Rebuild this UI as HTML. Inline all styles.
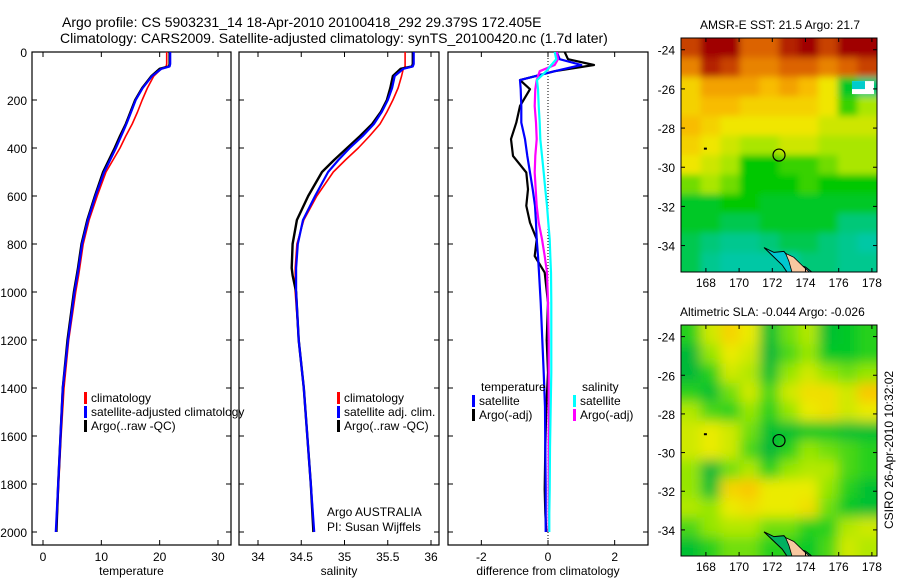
<!DOCTYPE html>
<html><head><meta charset="utf-8"><style>
html,body{margin:0;padding:0;background:#fff;}
svg{display:block;font-family:"Liberation Sans",sans-serif;}
text{fill:#000;}
</style></head><body>
<svg id="fig" width="900" height="580" viewBox="0 0 900 580" xmlns="http://www.w3.org/2000/svg">
<defs>
<filter id="blur" x="0" y="0" width="1" height="1"><feGaussianBlur stdDeviation="6"/></filter>
<filter id="blur1" x="0" y="0" width="1" height="1"><feGaussianBlur stdDeviation="3.5"/></filter>
<clipPath id="clipM1"><rect x="681" y="38" width="196" height="234"/></clipPath>
<clipPath id="clipM2"><rect x="681" y="325" width="196" height="231"/></clipPath>
<clipPath id="clipP1"><rect x="32" y="52" width="199" height="493"/></clipPath>
<clipPath id="clipP2"><rect x="239" y="52" width="200" height="493"/></clipPath>
<clipPath id="clipP3"><rect x="448" y="52" width="200" height="493"/></clipPath>
</defs>
<text x="62" y="27" font-size="14">Argo profile: CS 5903231_14 18-Apr-2010 20100418_292 29.379S 172.405E</text>
<text x="60" y="43" font-size="14">Climatology: CARS2009. Satellite-adjusted climatology: synTS_20100420.nc (1.7d later)</text>
<g id="g1"></g>
<g id="g2"></g>
<g id="g3"></g>
<g id="m1"></g>
<g id="m2"></g>
<text transform="translate(893,450) rotate(-90)" text-anchor="middle" font-size="12">CSIRO 26-Apr-2010 10:32:02</text>
</svg>
<script>
// ---- profile data ----
const depth = [0,50,60,70,100,150,200,250,300,350,400,450,500,600,700,800,900,930,1000,1200,1400,1600,1800,2000];
const tempArgo = [21.7,21.7,21.6,20.0,18.6,17.0,15.8,15.0,14.2,13.2,12.3,11.3,10.3,8.9,7.6,6.6,6.0,5.8,5.3,4.2,3.4,3.0,2.6,2.3];
const tempSat = [21.8,21.8,21.7,20.3,18.7,17.1,15.9,15.1,14.3,13.4,12.5,11.5,10.5,9.0,7.7,6.7,6.1,5.9,5.4,4.3,3.4,3.0,2.6,2.2];
const tempClim = [21.2,21.2,21.1,20.3,19.0,17.9,17.0,16.2,15.3,14.2,13.2,12.0,10.8,9.3,7.9,6.9,6.3,6.1,5.6,4.4,3.6,3.1,2.7,2.3];
const salArgo = [35.79,35.79,35.78,35.65,35.56,35.53,35.49,35.42,35.32,35.18,35.03,34.88,34.74,34.58,34.45,34.40,34.39,34.40,34.44,34.47,34.53,34.57,34.61,34.64];
const salSat = [35.80,35.80,35.79,35.68,35.58,35.55,35.50,35.43,35.34,35.21,35.06,34.93,34.81,34.66,34.52,34.46,34.44,34.44,34.44,34.47,34.53,34.57,34.61,34.65];
const salClim = [35.70,35.70,35.70,35.68,35.66,35.62,35.56,35.49,35.41,35.29,35.16,35.01,34.87,34.68,34.53,34.45,34.43,34.43,34.43,34.47,34.53,34.57,34.61,34.64];
const diffDepth = [0,30,54,80,117,155,225,294,363,433,502,572,641,711,780,850,919,1044,1200,1336,1478,1650,1822,1922,2000];
const dTempArgo = [0.5,0.6,1.38,0.2,-0.84,-0.54,-0.84,-0.95,-1.11,-1.05,-0.65,-0.6,-0.65,-0.54,-0.34,-0.4,-0.1,0,-0.04,0,-0.05,-0.08,-0.1,-0.08,-0.05];
const dTempSat = [0.26,0.35,1.0,0.2,-0.84,-0.82,-0.8,-0.8,-0.69,-0.62,-0.54,-0.46,-0.39,-0.36,-0.34,-0.3,-0.27,-0.22,-0.17,-0.13,-0.09,-0.08,-0.07,-0.07,-0.07];
const dSalArgo = [0.26,0.3,0.2,-0.25,-0.34,-0.38,-0.4,-0.36,-0.34,-0.38,-0.4,-0.37,-0.34,-0.28,-0.18,-0.1,-0.03,0.0,0.02,0.02,0.02,0.02,0.02,0.02,0.02];
const dSalSat = [0.2,0.25,0.1,-0.05,-0.33,-0.3,-0.28,-0.25,-0.23,-0.18,-0.13,-0.08,-0.03,0.01,0.05,0.07,0.09,0.1,0.1,0.1,0.08,0.06,0.05,0.04,0.04];
const depthTicks = [0,200,400,600,800,1000,1200,1400,1600,1800,2000];
const tempTicks = [0,10,20,30];
const salTicks = [34,34.5,35,35.5,36];
const salTickLabels = ["34","34.5","35","35.5","36"];
const diffTicks = [-2,0,2];
// ---- map data ----
const lonTicks = [168,170,172,174,176,178];
const latTicks = [-24,-26,-28,-30,-32,-34];
const sstGrid = [
[0.9,1,1,0.85,0.85,0.95,1,0.9,1,1],
[0.8,0.95,0.9,0.8,0.8,0.85,0.85,0.8,0.85,0.9],
[0.65,0.75,0.75,0.75,0.7,0.75,0.7,0.6,0.3,0.2],
[0.65,0.7,0.7,0.65,0.65,0.65,0.65,0.6,0.4,0.5],
[0.7,0.65,0.6,0.6,0.6,0.6,0.6,0.55,0.55,0.55],
[0.65,0.6,0.55,0.5,0.5,0.55,0.55,0.5,0.5,0.5],
[0.6,0.55,0.5,0.35,0.35,0.4,0.4,0.45,0.5,0.5],
[0.45,0.5,0.45,0.35,0.35,0.35,0.4,0.35,0.35,0.35],
[0.3,0.3,0.35,0.35,0.3,0.3,0.3,0.3,0.3,0.3],
[0.3,0.3,0.25,0.25,0.3,0.3,0.3,0.3,0.2,0.2],
[0.25,0.2,0.15,0.15,0.2,0.25,0.25,0.2,0.15,0.1],
[0.25,0.15,0.1,0.1,0.1,0.1,0.2,0.2,0.15,0.15]];
const slaGrid = [
[0.3,0.55,0.7,0.6,0.2,0.4,0.5,0.2,0.25,0.3],
[0.15,0.45,0.6,0.55,0.15,0.35,0.45,0.25,0.25,0.3],
[0.15,0.3,0.55,0.5,0.2,0.45,0.55,0.45,0.4,0.45],
[0.3,0.2,0.4,0.55,0.35,0.55,0.65,0.65,0.55,0.75],
[0.5,0.35,0.3,0.45,0.3,0.45,0.6,0.65,0.55,0.6],
[0.55,0.6,0.55,0.4,0.2,0.2,0.25,0.25,0.2,0.2],
[0.55,0.6,0.55,0.35,0.15,0.3,0.45,0.4,0.35,0.3],
[0.45,0.15,0.4,0.5,0.3,0.45,0.5,0.5,0.35,0.3],
[0.45,0.2,0.7,0.75,0.6,0.6,0.6,0.45,0.3,0.2],
[0.5,0.45,0.6,0.65,0.6,0.6,0.65,0.4,0.25,0.2],
[0.35,0.45,0.5,0.5,0.4,0.4,0.3,0.3,0.5,0.55],
[0.2,0.3,0.4,0.4,0.3,0.3,0.25,0.35,0.55,0.5]];
const argoLon = 172.405, argoLat = -29.379;

const NS = "http://www.w3.org/2000/svg";
function mk(parent, tag, attrs, txt){const e=document.createElementNS(NS,tag);for(const k in attrs)e.setAttribute(k,attrs[k]);if(txt!==undefined)e.textContent=txt;parent.appendChild(e);return e;}
const TOP=52, BOT=545;
const yD = d => TOP + d*0.24;

function panel(g, x0, x1, xs, xt, xtl, xlabel, clip, showY){
  const r = mk(g,'rect',{x:x0,y:TOP,width:x1-x0,height:BOT-TOP,fill:'none',stroke:'#000','stroke-width':1.2});
  
  
  depthTicks.forEach(d=>{
    const y=yD(d);
    mk(g,'line',{x1:x0,y1:y,x2:x0+5,y2:y,stroke:'#000'});
    mk(g,'line',{x1:x1,y1:y,x2:x1-5,y2:y,stroke:'#000'});
    if(showY){const t=mk(g,'text',{x:x0-5,y:y+5,'text-anchor':'end','font-size':12},String(d));
      
      }
  });
  xt.forEach((v,i)=>{
    const x=xs(v);
    mk(g,'line',{x1:x,y1:BOT,x2:x,y2:BOT-5,stroke:'#000'});
    mk(g,'line',{x1:x,y1:TOP,x2:x,y2:TOP+5,stroke:'#000'});
    const t=mk(g,'text',{x:x,y:BOT+16,'text-anchor':'middle','font-size':12},xtl[i]);
    
    
  });
  const l=mk(g,'text',{x:(x0+x1)/2,y:BOT+30,'text-anchor':'middle','font-size':12},xlabel);
  
  
}
function series(g, xs, depths, vals, color, w, name, clip){
  const pts = [];
  for(let i=0;i<vals.length;i++){pts.push(xs(vals[i]).toFixed(1)+','+yD(depths[i]).toFixed(1));}
  const p=mk(g,'polyline',{points:pts.join(' '),fill:'none',stroke:color,'stroke-width':w,'clip-path':'url(#'+clip+')','stroke-linejoin':'round'});
  
  
}
function legend(g, x, y, color, label, name){
  mk(g,'rect',{x:x,y:y-10,width:3,height:12,fill:color});
  const t=mk(g,'text',{x:x+7,y:y,'font-size':12},label);
  
  
}

// Panel 1
const g1=document.getElementById('g1');
const xT = v => 43 + v*5.833;
panel(g1,32,231,xT,tempTicks,tempTicks.map(String),'temperature','clipP1',true);
series(g1,xT,depth,tempClim,'#ff0000',1.6,'temperature-climatology-line','clipP1');
series(g1,xT,depth,tempArgo,'#000000',2.4,'temperature-argo-line','clipP1');
series(g1,xT,depth,tempSat,'#0000ff',2.2,'temperature-satellite-line','clipP1');
legend(g1,84,402,'#ff0000','climatology','legend-climatology');
legend(g1,84,416,'#0000ff','satellite-adjusted climatology','legend-satellite-adjusted');
legend(g1,84,430,'#000000','Argo(..raw -QC)','legend-argo');

// Panel 2
const g2=document.getElementById('g2');
const xS = v => 258 + (v-34)*86.5;
panel(g2,239,439,xS,salTicks,salTickLabels,'salinity','clipP2',false);
series(g2,xS,depth,salClim,'#ff0000',1.6,'salinity-climatology-line','clipP2');
series(g2,xS,depth,salArgo,'#000000',2.4,'salinity-argo-line','clipP2');
series(g2,xS,depth,salSat,'#0000ff',2.2,'salinity-satellite-line','clipP2');
legend(g2,337,402,'#ff0000','climatology','legend-sal-climatology');
legend(g2,337,416,'#0000ff','satellite adj. clim.','legend-sal-satellite');
legend(g2,337,430,'#000000','Argo(..raw -QC)','legend-sal-argo');
mk(g2,'text',{x:327,y:516,'font-size':12},'Argo AUSTRALIA');
mk(g2,'text',{x:327,y:531,'font-size':12},'PI: Susan Wijffels');

// Panel 3
const g3=document.getElementById('g3');
const xDf = v => 548 + v*33.33;
panel(g3,448,648,xDf,diffTicks,diffTicks.map(String),'difference from climatology','clipP3',false);
mk(g3,'line',{x1:xDf(0),y1:TOP,x2:xDf(0),y2:BOT,stroke:'#000','stroke-dasharray':'1,2','stroke-width':1});
series(g3,xDf,diffDepth,dTempArgo,'#000000',2.2,'diff-temp-argo-line','clipP3');
series(g3,xDf,diffDepth,dTempSat,'#0000ff',2.2,'diff-temp-satellite-line','clipP3');
series(g3,xDf,diffDepth,dSalArgo,'#ff00ff',2.2,'diff-sal-argo-line','clipP3');
series(g3,xDf,diffDepth,dSalSat,'#00ffff',2.2,'diff-sal-satellite-line','clipP3');
mk(g3,'text',{x:481,y:391,'font-size':12},'temperature');
legend(g3,472,405,'#0000ff','satellite','legend-diff-temp-satellite');
legend(g3,472,419,'#000000','Argo(-adj)','legend-diff-temp-argo');
mk(g3,'text',{x:582,y:391,'font-size':12},'salinity');
legend(g3,573,405,'#00ffff','satellite','legend-diff-sal-satellite');
legend(g3,573,419,'#ff00ff','Argo(-adj)','legend-diff-sal-argo');

// Maps
function cmapSST(v){
  const stops=[[0,[0,200,210]],[0.2,[0,200,120]],[0.35,[0,200,0]],[0.5,[170,230,0]],[0.6,[240,230,0]],[0.72,[250,180,0]],[0.85,[220,100,0]],[1,[160,0,0]]];
  return interp(stops,v);
}
function cmapSLA(v){
  const stops=[[0,[0,160,80]],[0.25,[0,200,40]],[0.45,[150,230,0]],[0.6,[235,235,0]],[0.75,[250,200,0]],[0.9,[245,150,0]]];
  return interp(stops,v);
}
function interp(stops,v){
  for(let i=1;i<stops.length;i++){if(v<=stops[i][0]){const a=stops[i-1],b=stops[i];const t=(v-a[0])/(b[0]-a[0]);
    return 'rgb('+a[1].map((c,k)=>Math.round(c+(b[1][k]-c)*t)).join(',')+')';}}
  const l=stops[stops.length-1][1];return 'rgb('+l.join(',')+')';
}
function map(id, y0, y1, grid, cmap, filt, clip, title, tx, anchor, isSST){
  const g=document.getElementById(id);
  const x0=681,x1=877;
  const lonX = lon => 681 + (lon-166.5)*16.6;
  const latY = lat => y0 + (-23.4-lat)*(y1-y0)/11.95;
  const gi=mk(g,'g',{'clip-path':'url(#'+clip+')'});
  const inner=mk(gi,'g',{filter:'url(#'+filt+')'});
  const rows=grid.length, cols=grid[0].length;
  const cw=(x1-x0)/cols, ch=(y1-y0)/rows;
  const pad=12;
  for(let r=0;r<rows;r++)for(let c=0;c<cols;c++){
    const x=x0+c*cw-(c===0?pad:0), y=y0+r*ch-(r===0?pad:0);
    const w=cw+(c===0?pad:0)+(c===cols-1?pad:0)+0.5, h=ch+(r===0?pad:0)+(r===rows-1?pad:0)+0.5;
    const cell=mk(inner,'rect',{x:x,y:y,width:w,height:h,fill:cmap(grid[r][c])});
    
    
  }
  if(isSST){mk(gi,'rect',{x:lonX(176.8),y:latY(-25.6),width:22,height:13,fill:'#fff'});
    mk(gi,'rect',{x:lonX(176.8),y:latY(-25.6),width:13,height:8,fill:'#00cccc'});}
  const coast=[[171.5,-34.1],[172.1,-34.35],[172.7,-34.3],[173.3,-34.9],[174.0,-35.1],[174.6,-35.5],[173.0,-35.5],[172.6,-35.0]];
  mk(gi,'polygon',{points:coast.map(p=>lonX(p[0])+','+latY(p[1])).join(' '),fill:isSST?'#00c8d0':'#00b060',stroke:'#000','stroke-width':1});
  const land=[[172.8,-34.4],[173.3,-34.6],[173.9,-35.1],[174.3,-35.4],[173.2,-35.4],[173.0,-34.8]];
  mk(gi,'polygon',{points:land.map(p=>lonX(p[0])+','+latY(p[1])).join(' '),fill:'#f8c8a0',stroke:'#000','stroke-width':0.8});
  mk(gi,'rect',{x:lonX(168)-2,y:latY(-29.05)-1,width:3,height:2,fill:'#000'});
  const c=mk(g,'circle',{cx:lonX(argoLon),cy:latY(argoLat),r:6,fill:'none',stroke:'#000','stroke-width':1.2});
  
  
  mk(g,'rect',{x:x0,y:y0,width:x1-x0,height:y1-y0,fill:'none',stroke:'#000','stroke-width':1});
  lonTicks.forEach(l=>{const x=lonX(l);mk(g,'line',{x1:x,y1:y1,x2:x,y2:y1-4,stroke:'#000'});mk(g,'line',{x1:x,y1:y0,x2:x,y2:y0+4,stroke:'#000'});
    const t=mk(g,'text',{x:x,y:y1+15,'text-anchor':'middle','font-size':12},String(l));
    
    });
  latTicks.forEach(l=>{const y=latY(l);mk(g,'line',{x1:x0,y1:y,x2:x0+4,y2:y,stroke:'#000'});mk(g,'line',{x1:x1,y1:y,x2:x1-4,y2:y,stroke:'#000'});
    const t=mk(g,'text',{x:x0-6,y:y+5,'text-anchor':'end','font-size':12},String(l));
    
    });
  const tt=mk(g,'text',{x:tx,y:y0-9,'text-anchor':anchor,'font-size':12},title);
  
  
}
map('m1',38,272,sstGrid,cmapSST,'blur1','clipM1','AMSR-E SST: 21.5 Argo: 21.7',780,'middle',true);
map('m2',325,556,slaGrid,cmapSLA,'blur','clipM2','Altimetric SLA: -0.044 Argo: -0.026',680,'start',false);
</script>
</body></html>
